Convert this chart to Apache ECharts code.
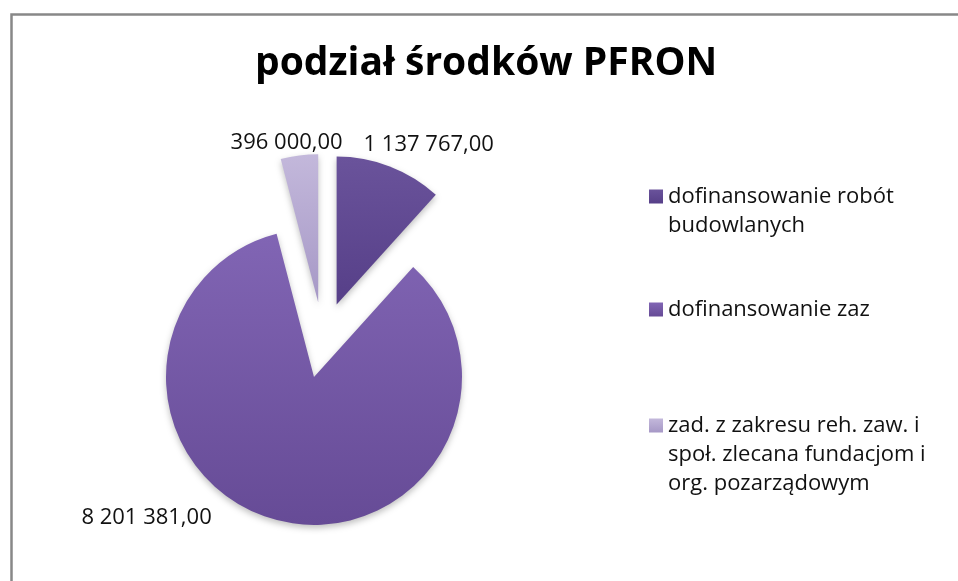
<!DOCTYPE html>
<html>
<head>
<meta charset="utf-8">
<script src="https://cdn.jsdelivr.net/npm/echarts@6/dist/echarts.min.js"></script>
<style>
html,body{margin:0;padding:0;background:#fff;}
#main{width:958px;height:581px;}
</style>
</head>
<body>
<div id="main"></div>
<script>
var categories=['dofinansowanie robót budowlanych','dofinansowanie zaz','zad. z zakresu reh. zaw. i społ. zlecana fundacjom i org. pozarządowym'];
var legendText=['dofinansowanie robót\nbudowlanych','dofinansowanie zaz','zad. z zakresu reh. zaw. i\nspoł. zlecana fundacjom i\norg. pozarządowym'];
var values=[1137767,8201381,396000];

var colors=[['#6a539b','#563f88'],['#8165b4','#664b96'],['#c3b8db','#a698c6']];
// nudge labels to where Excel put them
var labelShift=[[-33,-17],[-61,-8],[49,-8]];
var lineH=29;
var legendTops=[153,295,353];

function money(v){
    var s=v.toFixed(2).split('.');
    return s[0].replace(/\B(?=(\d{3})+(?!\d))/g,' ')+','+s[1];
}

var Myecharts=echarts.init(document.getElementById('main'));

var pieData=[];
for(var i=0;i<values.length;i++){
    pieData.push({
        name:categories[i],
        value:values[i],
        selected:true,
        itemStyle:{
            color:new echarts.graphic.LinearGradient(0,0,0,1,[
                {offset:0,color:colors[i][0]},
                {offset:1,color:colors[i][1]}
            ])
        }
    });
}

// one legend per item so the icon can sit on the first text line
var legends=[];
for(var j=0;j<categories.length;j++){
    legends.push({
        orient:'vertical',
        left:649,
        top:legendTops[j],
        padding:0,
        icon:'rect',
        itemWidth:14,
        itemHeight:14,
        selectedMode:false,
        data:[categories[j]],
        formatter:function(name){
            var t=legendText[categories.indexOf(name)];
            var n=t.split('\n').length;
            var pre='';
            for(var k=1;k<n;k++) pre+=' \n';
            return pre+t;
        },
        textStyle:{
            fontFamily:'Open Sans',
            fontSize:22,
            color:'#111',
            lineHeight:lineH
        }
    });
}

var option={
    animation:false,
    title:{
        text:'podział środków PFRON',
        left:255,
        top:44,
        padding:0,
        textStyle:{
            fontFamily:'Open Sans',
            fontWeight:'bold',
            fontSize:39,
            color:'#000'
        }
    },
    legend:legends,
    graphic:[{
        type:'rect',
        left:9,
        top:12,
        shape:{width:1100,height:700},
        style:{fill:'none',stroke:'#888',lineWidth:2.5},
        silent:true
    }],
    series:[{
        type:'pie',
        center:[323,340],
        radius:148,
        startAngle:90,
        selectedMode:'multiple',
        selectedOffset:38,
        avoidLabelOverlap:false,
        emphasis:{disabled:true},
        itemStyle:{
            shadowBlur:6,
            shadowOffsetY:3,
            shadowColor:'rgba(0,0,0,0.25)'
        },
        label:{
            show:true,
            position:'outside',
            fontFamily:'Open Sans',
            fontSize:22,
            color:'#111',
            formatter:function(p){return money(p.value);}
        },
        labelLine:{show:false,length:5,length2:0},
        labelLayout:function(p){
            return {dx:labelShift[p.dataIndex][0],dy:labelShift[p.dataIndex][1]};
        },
        data:pieData
    }]
};
Myecharts.setOption(option);
</script>
</body>
</html>
